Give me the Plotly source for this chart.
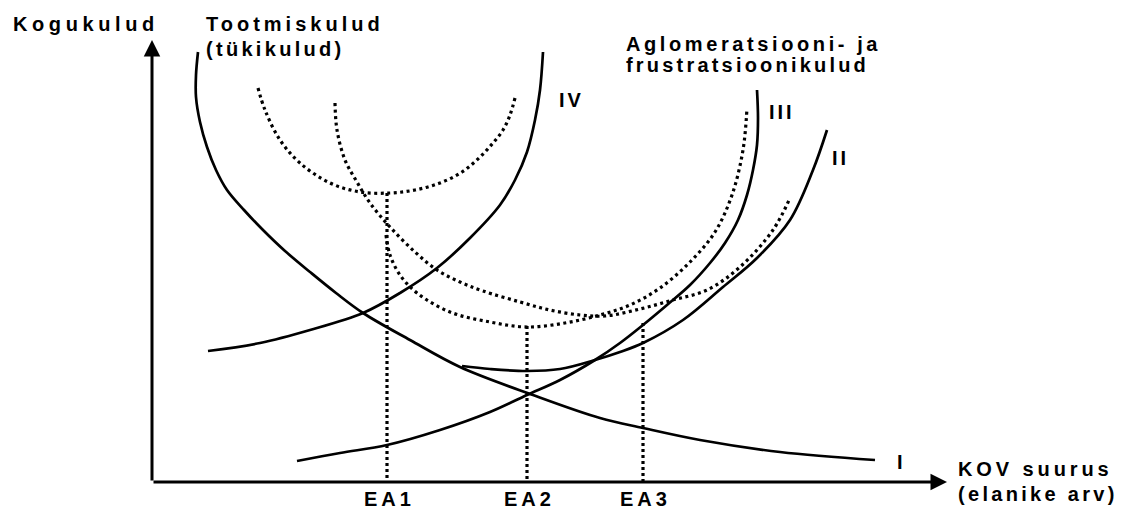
import plotly.graph_objects as go

# Values: horizontal = KOV size, vertical = total cost
# (origin of the axes at 0,0)

# I - unit production cost (falling)
curve_I_x = [46, 44, 44, 48, 55, 64, 75, 92, 111, 133, 158, 184, 211, 258, 308, 381, 448, 491, 548, 628, 723]
curve_I_y = [430, 407, 385, 360, 335, 312, 292, 272, 252, 231, 210, 189, 169, 142, 115, 87, 64, 54, 42, 30, 22]

# IV - rising solid curve (left)
curve_IV_x = [56, 108, 158, 211, 248, 285, 318, 348, 363, 375, 383, 388, 391]
curve_IV_y = [131, 139, 152, 169, 189, 214, 244, 277, 302, 330, 362, 392, 430]

# solid curve rising from the bottom to the top next to "III"
curve_III_x = [145, 188, 235, 288, 338, 375, 408, 443, 468, 491, 515, 538, 558, 573, 586, 595, 601, 605, 606, 605]
curve_III_y = [21, 29, 37, 52, 70, 87, 102, 122, 139, 157, 177, 197, 219, 239, 262, 287, 312, 337, 364, 392]

# U-shaped solid curve ending next to "II"
curve_II_x = [310, 338, 375, 408, 443, 468, 491, 531, 571, 605, 638, 661, 675]
curve_II_y = [116, 113, 111, 113, 122, 130, 139, 162, 195, 224, 262, 312, 352]

# dotted total-cost curves
dot_A_x = [106, 113, 128, 148, 178, 208, 238, 263, 288, 310, 328, 341, 351, 358, 363]
dot_A_y = [394, 372, 342, 319, 299, 290, 289, 292, 299, 310, 325, 339, 352, 367, 384]

dot_B_x = [183, 185, 193, 205, 218, 238, 263, 285, 308, 331, 368, 398, 428, 453, 488, 521, 555, 588, 621, 638]
dot_B_y = [379, 352, 322, 300, 279, 255, 230, 212, 200, 191, 180, 172, 167, 166, 173, 182, 192, 215, 252, 284]

dot_C_x = [234, 238, 248, 265, 298, 338, 375, 413, 448, 478, 508, 538, 563, 580, 591, 595]
dot_C_y = [247, 227, 207, 189, 170, 160, 155, 159, 167, 177, 194, 220, 250, 287, 332, 374]

# optimal sizes (vertical dotted lines)
ea_labels = ["EA1", "EA2", "EA3"]
ea_x = [235, 375, 491]
ea_top = [289, 156, 159]

axis_x_end = 795
axis_y_end = 442

FONT = "Liberation Sans"

fig = go.Figure()


def solid(xs, ys):
    fig.add_trace(go.Scatter(x=xs, y=ys, mode="lines",
                             line=dict(color="black", width=2.7, shape="spline", smoothing=1.0),
                             hoverinfo="skip", showlegend=False))


def dotted(xs, ys):
    fig.add_trace(go.Scatter(x=xs, y=ys, mode="lines",
                             line=dict(color="black", width=3.2, dash="3px,3.5px", shape="spline", smoothing=1.0),
                             hoverinfo="skip", showlegend=False))


solid(curve_I_x, curve_I_y)
solid(curve_IV_x, curve_IV_y)
solid(curve_III_x, curve_III_y)
solid(curve_II_x, curve_II_y)
dotted(dot_A_x, dot_A_y)
dotted(dot_B_x, dot_B_y)
dotted(dot_C_x, dot_C_y)

for x, top in zip(ea_x, ea_top):
    fig.add_trace(go.Scatter(x=[x, x], y=[top, 0], mode="lines",
                             line=dict(color="black", width=3.2, dash="3px,3px"),
                             hoverinfo="skip", showlegend=False))

# axes with arrows
for hx, hy in [(0, axis_y_end), (axis_x_end, 0)]:
    fig.add_annotation(x=hx, y=hy, ax=0, ay=0, xref="x", yref="y", axref="x", ayref="y",
                       text="", showarrow=True, arrowhead=2, arrowsize=1.1, arrowwidth=3,
                       arrowcolor="black", standoff=0, startstandoff=0)


def label(x, y, txt, anchor="left", spacing=4):
    fig.add_annotation(x=x, y=y, xref="x", yref="y", showarrow=False,
                       text='<b><span style="letter-spacing:%spx">%s</span></b>' % (spacing, txt),
                       xanchor=anchor, yanchor="middle",
                       font=dict(family=FONT, size=20, color="black"))


label(-141, 458, "Kogukulud", spacing=4.6)
label(52, 458, "Tootmiskulud", spacing=4.0)
label(52, 433, "(tükikulud)", spacing=3.3)
label(472, 438, "Aglomeratsiooni- ja", spacing=3.6)
label(472, 417, "frustratsioonikulud", spacing=3.2)
label(419, 382, "IV", anchor="center", spacing=3)
label(630, 370, "III", anchor="center", spacing=3)
label(688, 324, "II", anchor="center", spacing=3)
label(748, 20, "I", anchor="center", spacing=0)
label(804, 13, "KOV suurus", spacing=3.9)
label(804, -12, "(elanike arv)", spacing=3.3)
for txt, x in zip(ea_labels, ea_x):
    label(x + 2, -17, txt, anchor="center", spacing=4)

fig.update_layout(
    width=1125, height=510,
    margin=dict(l=0, r=0, t=0, b=0),
    paper_bgcolor="white", plot_bgcolor="white",
    xaxis=dict(range=[-152, 973], visible=False, fixedrange=True),
    yaxis=dict(range=[-28, 482], visible=False, fixedrange=True),
)

fig.write_html("out.html",
               config={"displayModeBar": False, "staticPlot": True},
               post_script="document.body.style.margin='0';document.body.style.overflow='hidden';")
